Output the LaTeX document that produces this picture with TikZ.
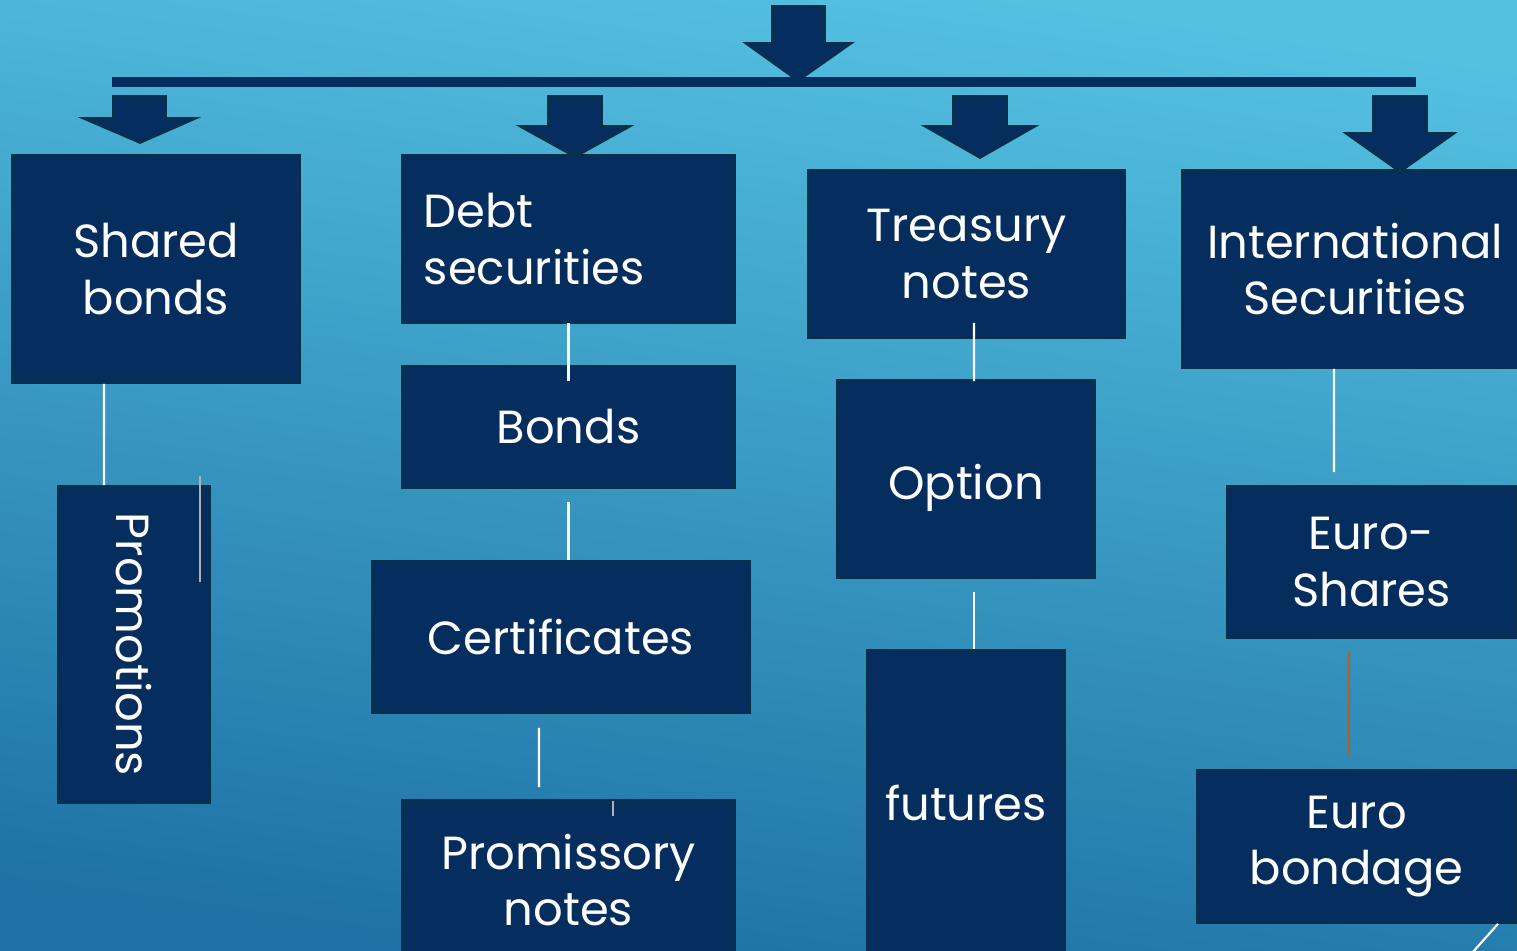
\documentclass[tikz,border=0pt]{standalone}
\usepackage{fontspec}
\setmainfont{Poppins}
\usepackage{graphicx}
\usetikzlibrary{calc}

\definecolor{navy}{RGB}{5,46,94}
\definecolor{navyedge}{RGB}{10,48,72}
\definecolor{bgtop}{RGB}{84,193,225}
\definecolor{bgbot}{RGB}{30,114,165}
\definecolor{rust}{RGB}{176,96,48}

\tikzset{
  blk/.style={fill=navy, draw=navyedge, line width=0.5pt, text=white, inner sep=0pt,
    align=center, font=\fontsize{13.2}{16}\selectfont},
  link/.style={draw=white, line width=0.6pt},
  faint/.style={draw=gray!60, line width=0.4pt},
  arrowfill/.style={fill=navy, draw=navyedge, line width=0.5pt},
}

\begin{document}
\begin{tikzpicture}[x=0.01cm, y=-0.01cm]
\useasboundingbox (0,0) rectangle (1517,951);
\shade[top color=bgtop, bottom color=bgbot, shading angle=-8] (0,0) rectangle (1517,951);

% top arrow and bar
\draw[arrowfill] (772,6) -- (825,6) -- (825,43) -- (852,43) -- (798,81) -- (745,43) -- (772,43) -- cycle;
\fill[navy] (112,77) rectangle (1416,87);

% arrows down to the four heads
\draw[arrowfill] (113,96) -- (166,96) -- (166,118) -- (197,118) -- (140,143) -- (82,118) -- (113,118) -- cycle;
\draw[arrowfill] (548,96) -- (602,96) -- (602,126) -- (631,126) -- (575,157) -- (519,126) -- (548,126) -- cycle;
\draw[arrowfill] (953,96) -- (1007,96) -- (1007,126) -- (1036,126) -- (980,158) -- (924,126) -- (953,126) -- cycle;
\draw[arrowfill] (1373,96) -- (1427,96) -- (1427,133) -- (1455,133) -- (1400,172) -- (1345,133) -- (1373,133) -- cycle;

% column 1
\node[blk, minimum width=2.88cm, minimum height=2.28cm] (shared) at (156,269) {Shared\\bonds};
\node[blk, minimum width=1.52cm, minimum height=3.17cm] (promo) at (134,644.5) {\rotatebox{-90}{Promotions}};

% column 2
\node[blk, align=left, text width=2.89cm, inner xsep=0.22cm, minimum height=1.68cm] (debt) at (568.5,239) {Debt\\securities};
\node[blk, minimum width=3.33cm, minimum height=1.22cm] (bonds) at (568.5,427) {Bonds};
\node[blk, minimum width=3.78cm, minimum height=1.52cm] (cert) at (561,637) {Certificates};
\node[blk, minimum width=3.33cm, minimum height=1.60cm] (promis) at (568.5,880) {Promissory\\notes};

% column 3
\node[blk, minimum width=3.17cm, minimum height=1.68cm] (treas) at (966.5,254) {Treasury\\notes};
\node[blk, minimum width=2.58cm, minimum height=1.98cm] (option) at (966,479) {\raisebox{-0.09cm}[\height][\depth]{Option}};
\node[blk, minimum width=1.98cm, minimum height=3.06cm] (futures) at (966,803) {futures};

% column 4
\node[blk, minimum width=3.46cm, minimum height=1.98cm] (intl) at (1355,269) {International\\Securities};
\node[blk, minimum width=2.89cm, minimum height=1.52cm] (euros) at (1371.5,562) {Euro-\\Shares};
\node[blk, minimum width=3.19cm, minimum height=1.53cm] (eurob) at (1356.5,846.5) {Euro\\bondage};

% links
\draw[link] ([xshift=-0.52cm]shared.south) -- ([xshift=-0.30cm]promo.north);
\draw[link] ([yshift=0.01cm]debt.south) -- ([yshift=-0.16cm]bonds.north);
\draw[link] ([yshift=-0.13cm]bonds.south) -- (bonds.south |- cert.north);
\draw[link] ([xshift=-0.22cm,yshift=-0.14cm]cert.south) -- ([xshift=-0.295cm,yshift=0.12cm]promis.north);
\draw[link] ([xshift=0.075cm,yshift=0.16cm]treas.south) -- ([xshift=0.08cm,yshift=-0.02cm]option.north);
\draw[link] ([xshift=0.08cm,yshift=-0.13cm]option.south) -- ([xshift=0.08cm]futures.north);
\draw[link] ([xshift=-0.21cm]intl.south) -- ([xshift=-0.375cm,yshift=0.13cm]euros.north);
\draw[link, draw=rust] ([xshift=-0.225cm,yshift=-0.13cm]euros.south) -- ([xshift=-0.075cm,yshift=0.13cm]eurob.north);
\draw[link] ([xshift=-0.19cm]eurob.south east) -- ++(-50,56);

% stray marks
\draw[faint] ([xshift=-0.11cm,yshift=0.09cm]promo.north east) -- ++(0,106);
\draw[faint] ([xshift=0.445cm,yshift=-0.02cm]promis.north) -- ++(0,15);
\end{tikzpicture}
\end{document}
